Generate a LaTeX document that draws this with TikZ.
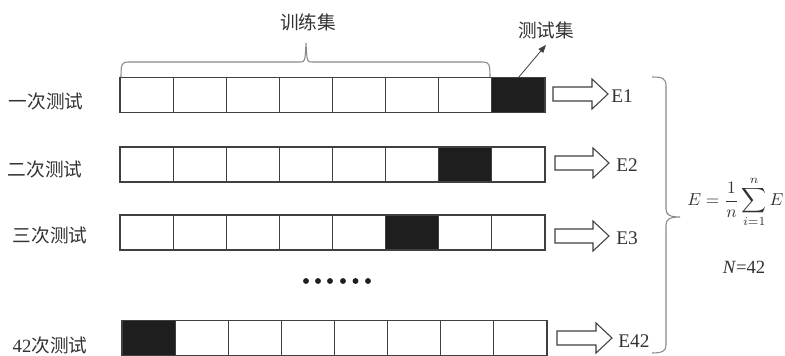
\documentclass[tikz,border=0pt]{standalone}
\usepackage{fontspec}
\setmainfont{Liberation Serif}
\newfontfamily\cjk{Noto Sans CJK SC}
\usetikzlibrary{arrows.meta}
\definecolor{ln}{HTML}{404040}
\definecolor{tx}{HTML}{333333}
\definecolor{blk}{HTML}{1E1E1E}
\definecolor{brc}{HTML}{8A8A8A}
\tikzset{
  cell/.style={draw=ln, line width=0.8pt, minimum width=39.84pt, minimum height=26.25pt, inner sep=0pt, outer sep=0pt},
  rowlab/.style={text=tx, font=\fontsize{14}{16}\selectfont\cjk, inner sep=0pt},
  elab/.style={text=tx, font=\fontsize{14.5}{16}\selectfont, inner sep=0pt, anchor=west},
  barrow/.style={draw=ln, line width=0.8pt, fill=white},
  bracestyle/.style={draw=brc, line width=0.8pt},
  ptr/.style={draw=ln, line width=0.6pt, -{Triangle[length=6pt,width=4.5pt]}},
  dot/.style={fill=blk},
}
\newcommand\blockarr[4]{% start x, y, head-start offset, name
  \draw[barrow] (#1,#2-7) -- (#1+#3,#2-7) -- (#1+#3,#2-15) -- (#1+#3+16,#2) -- (#1+#3,#2+15) -- (#1+#3,#2+7) -- (#1,#2+7) -- cycle;
  \coordinate (#4) at (#1+#3+16,#2);}
\begin{document}
\begin{tikzpicture}[x=0.75pt,y=-0.75pt]
\useasboundingbox (0,0) rectangle (785,355);
\fill[white] (0,0) rectangle (785,355);

% rows of cells
\foreach \r/\yy/\b/\xs in {1/95/8/120, 2/164.5/7/120, 3/232.5/6/120, 4/338/1/122} {
  \foreach \c in {1,...,8} {
    \ifnum\c=\b \def\cf{blk}\else\def\cf{white}\fi
    \node[cell, fill=\cf] (r\r c\c) at ({\xs+(\c-0.5)*53.125}, \yy) {};
  }
}

% row labels
\node[rowlab] (l1) at (46,101) {一次测试};
\node[rowlab] (l2) at (45,169) {二次测试};
\node[rowlab] (l3) at (50,235) {三次测试};
\node[rowlab] (l4) at (50,345) {{\rmfamily 42}次测试};

% block arrows and results
\blockarr{553}{94}{39}{a1}
\blockarr{555}{163}{38}{a2}
\blockarr{555}{236}{38}{a3}
\blockarr{557}{338}{39}{a4}
\node[elab] (e1) at (611,96) {E1};
\node[elab] (e2) at (616,165) {E2};
\node[elab] (e3) at (616,238) {E3};
\node[elab] (e4) at (618,341) {E42};

% dots
\foreach \dx in {306,318,330,343,355.5,368} {
  \fill[dot] (\dx,281) circle[radius=2.2pt];
}

% training set brace
\node[rowlab] (train) at (308,22) {训练集};
\draw[bracestyle] (121,77) .. controls (121,64) and (122,62) .. (128,62) -- (300,62)
  .. controls (305,62) .. (306,43) .. controls (307,62) .. (312,62) -- (483,62)
  .. controls (489,62) and (490,64) .. (490,77);

% test set label and pointer
\node[rowlab] (test) at (546,30) {测试集};
\draw[ptr] (r1c8.north) -- ([yshift=-4.5pt]test.south);

% right brace
\draw[bracestyle] (652,77) .. controls (662,77) and (666,78) .. (666,86) -- (666,209)
  .. controls (666,215) and (670,217) .. (680,217)
  .. controls (670,217) and (666,219) .. (666,225) -- (666,345)
  .. controls (666,351) and (662,353) .. (652,353);

% formula
\node[anchor=west, inner sep=0pt, text=tx, scale=1.3] (form) at (687,202)
  {$\displaystyle E=\frac{1}{n}\sum_{i=1}^{n}E$};
\node[text=tx, inner sep=0pt, font=\fontsize{14}{16}\selectfont] (nn) at (744,267) {\textit{N}=42};
\end{tikzpicture}
\end{document}
